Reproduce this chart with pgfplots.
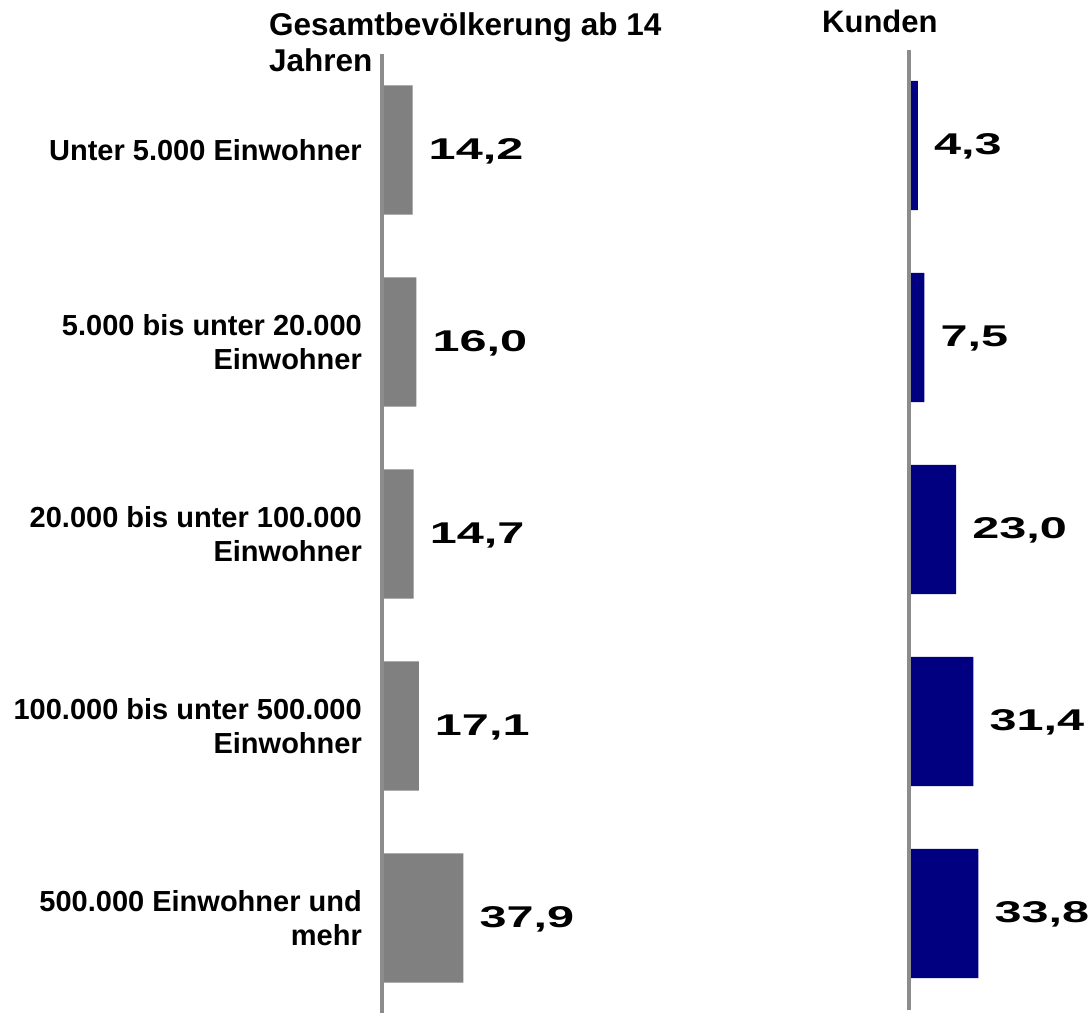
\documentclass[border=0pt]{standalone}
\usepackage{pgfplots}
\pgfplotsset{compat=1.18}
\usepackage{fontspec}
\setmainfont{Liberation Sans}
\usepackage{graphicx}
\definecolor{bargray}{RGB}{128,128,128}
\definecolor{barblue}{RGB}{0,0,128}
\definecolor{axgray}{RGB}{140,140,140}
\newcommand{\vlab}[1]{\scalebox{1.62}[1]{#1}}
\begin{document}
\begin{tikzpicture}
\useasboundingbox (0pt,0pt) rectangle (1092pt,1012pt);
\pgfplotsset{
  panel/.style={
    scale only axis, height=960pt,
    ymin=-0.5, ymax=4.5, y dir=reverse, xmin=0, xmax=100,
    axis x line=none, axis y line=left,
    y axis line style={-, draw=axgray, line width=3.5pt},
    xbar, bar width=0.672, bar shift=0pt,
    major tick length=0pt, clip=false, axis on top,
    point meta=x,
    nodes near coords={\vlab{\pgfmathprintnumber[fixed,fixed zerofill,precision=1,use comma,assume math mode=true]{\pgfplotspointmeta}}},
    nodes near coords style={font=\fontsize{30}{30}\selectfont\bfseries, anchor=west, inner sep=0pt, xshift=16pt, yshift=-1pt, text=black},
    anchor=south west,
  }
}
\begin{axis}[panel, width=215pt, at={(382pt,-2pt)},
  ytick={0,1,2,3,4},
  yticklabels={{Unter 5.000 Einwohner},{5.000 bis unter 20.000\\Einwohner},{20.000 bis unter 100.000\\Einwohner},{100.000 bis unter 500.000\\Einwohner},{500.000 Einwohner und\\mehr}},
  yticklabel style={font=\fontsize{29}{34}\selectfont\bfseries, align=right, inner sep=0pt, xshift=-20pt, text=black},
]
\addplot[fill=bargray, draw=none] coordinates {(14.2,0) (16.0,1) (14.7,2) (17.1,3) (37.9,4)};
\end{axis}
\begin{axis}[panel, width=205pt, at={(909pt,2.5pt)}, ytick=\empty]
\addplot[fill=barblue, draw=none] coordinates {(4.3,0) (7.5,1) (23.0,2) (31.4,3) (33.8,4)};
\end{axis}
\node[anchor=base west, inner sep=0pt, font=\fontsize{31.5}{31.5}\selectfont\bfseries] at (269pt,976pt) {Gesamtbevölkerung ab 14};
\node[anchor=base west, inner sep=0pt, font=\fontsize{31.5}{31.5}\selectfont\bfseries] at (269pt,940pt) {Jahren};
\node[anchor=base west, inner sep=0pt, font=\fontsize{31}{31}\selectfont\bfseries] at (822pt,979pt) {Kunden};
\end{tikzpicture}
\end{document}
